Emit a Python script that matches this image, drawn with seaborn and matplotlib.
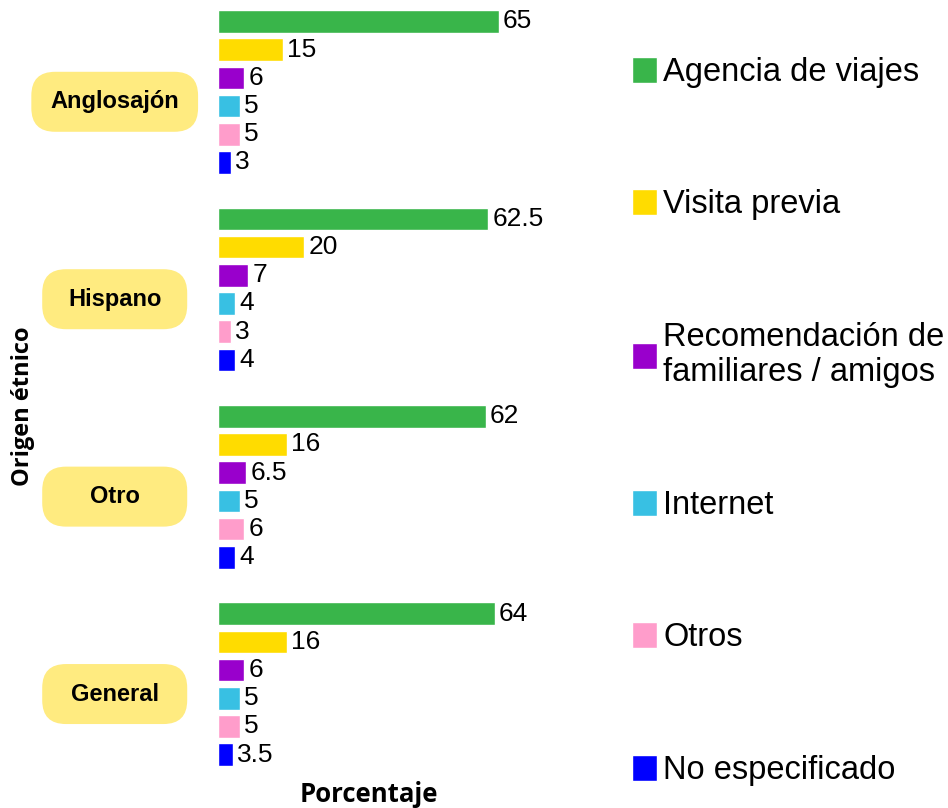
import matplotlib.pyplot as plt
import matplotlib.transforms as mtransforms
from matplotlib.patches import FancyBboxPatch
import numpy as np
import pandas as pd
import seaborn as sns

origenes = ["Anglosajón", "Hispano", "Otro", "General"]
fuentes = ["Agencia de viajes", "Visita previa",
           "Recomendación de\nfamiliares / amigos", "Internet", "Otros",
           "No especificado"]
agencia = [65, 62.5, 62, 64]
visita = [15, 20, 16, 16]
recomendacion = [6, 7, 6.5, 6]
internet = [5, 4, 5, 5]
otros = [5, 3, 6, 5]
no_espec = [3, 4, 4, 3.5]
colores = ["#39B54A", "#FFDC00", "#9900CC", "#38C0E3", "#FF9DCB", "#0000FF"]

series = [agencia, visita, recomendacion, internet, otros, no_espec]
rows = []
for fuente, vals in zip(fuentes, series):
    for origen, v in zip(origenes, vals):
        rows.append({"origen": origen, "fuente": fuente, "valor": v})
df = pd.DataFrame(rows)

sns.set_style("white")
plt.rcParams["font.family"] = ["Liberation Sans", "DejaVu Sans"]
plt.rcParams["text.color"] = "black"

fig = plt.figure(figsize=(9.48, 8.08), dpi=100)
ax = fig.add_axes([0.23, 0.0433, 0.319, 0.948])

sns.barplot(data=df, y="origen", x="valor", hue="fuente", order=origenes,
            hue_order=fuentes, palette=colores, saturation=1, orient="h",
            width=6 / 7, gap=0.2, ax=ax, legend=True)

for cont in ax.containers:
    ax.bar_label(cont, labels=[f"{v:g}" for v in cont.datavalues],
                 padding=3, fontsize=19, color="black")

ax.set_xlim(0, 70)
ax.set_ylim(3.45, -0.43)
ax.set_xticks([])
ax.set_yticks([])
sns.despine(ax=ax, left=True, bottom=True)

ax.set_xlabel("Porcentaje", family="Open Sans", fontweight="bold",
              fontsize=18.5, labelpad=6, color="black")
ax.set_ylabel("")
fig.text(0.024, 0.497, "Origen étnico", rotation=90, family="Open Sans",
         fontweight="bold", fontsize=17, ha="center", va="center")

# boxed category labels
trans = mtransforms.blended_transform_factory(fig.transFigure, ax.transData)
labels_txt = []
for i, origen in enumerate(origenes):
    t = ax.text(0.121, i + 0.05, origen, transform=trans, ha="center",
                va="center", fontsize=17, fontweight="bold",
                family=["Liberation Sans", "DejaVu Sans"], zorder=5,
                clip_on=False)
    labels_txt.append(t)

fig.canvas.draw()
r = fig.canvas.get_renderer()
inv = fig.transFigure.inverted()
for t in labels_txt:
    bb = t.get_window_extent(r)
    w = max(bb.width + 38, 145)
    cx = (bb.x0 + bb.x1) / 2
    cy = (bb.y0 + bb.y1) / 2
    (x0, y0) = inv.transform((cx - w / 2, cy - 30))
    (x1, y1) = inv.transform((cx + w / 2, cy + 30))
    box = FancyBboxPatch((x0, y0), x1 - x0, y1 - y0,
                         boxstyle="round,pad=0,rounding_size=0.025",
                         transform=fig.transFigure, fc="#FFEB80", ec="none",
                         zorder=4, clip_on=False,
                         mutation_aspect=948 / 808)
    ax.add_patch(box)

handles, labels = ax.get_legend_handles_labels()
ax.get_legend().remove()
fig.legend(handles, labels, loc="upper left", bbox_to_anchor=(0.667, 0.93),
           frameon=False, fontsize=23.5, labelspacing=3.1, handlelength=0.75,
           handleheight=0.85, handletextpad=0.2, borderpad=0,
           borderaxespad=0)

fig.savefig("out.png", dpi=100, facecolor="white")
